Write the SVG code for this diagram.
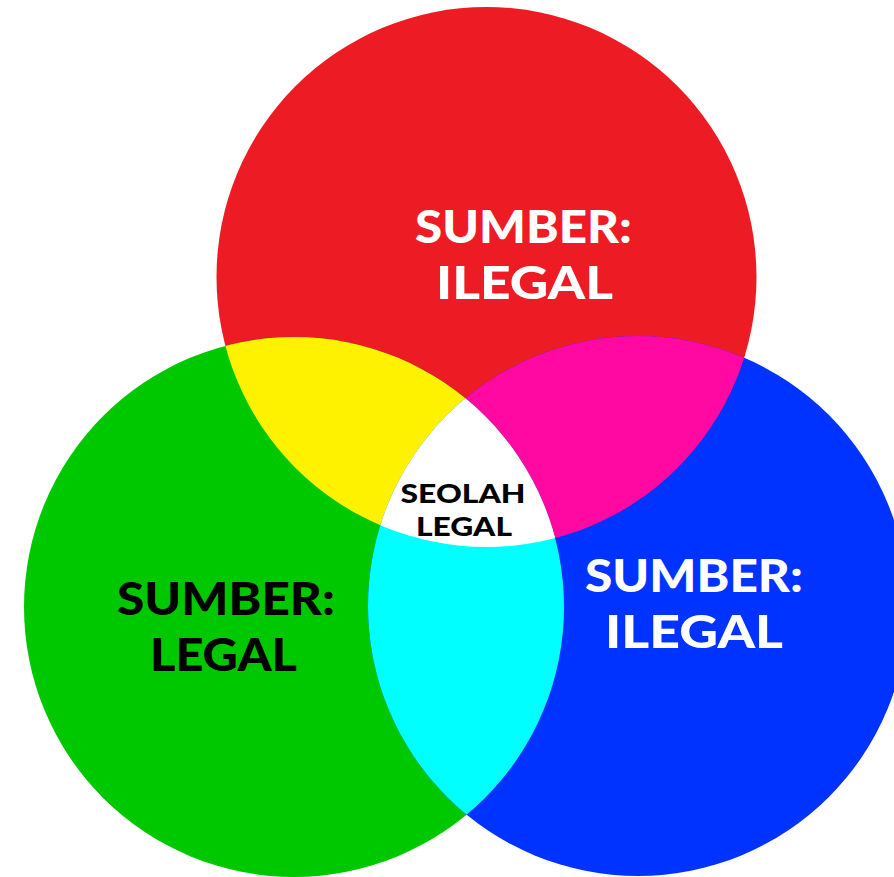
<svg xmlns="http://www.w3.org/2000/svg" xmlns:xlink="http://www.w3.org/1999/xlink" width="894" height="877" viewBox="0 0 894 877">
<style>
.big{font-family:Lato,"Liberation Sans",sans-serif;font-weight:900;font-size:45px;text-anchor:middle}
.small{font-family:Lato,"Liberation Sans",sans-serif;font-weight:900;font-size:27px;text-anchor:middle;fill:#000}
.w{fill:#fff}
.k{fill:#000}
</style>
<defs>
<circle id="cR" cx="486.5" cy="277" r="270"/>
<circle id="cG" cx="294" cy="607" r="270"/>
<circle id="cB" cx="638" cy="606" r="270"/>
<clipPath id="clipR"><use xlink:href="#cR"/></clipPath>
<clipPath id="clipG"><use xlink:href="#cG"/></clipPath>
<clipPath id="clipB"><use xlink:href="#cB"/></clipPath>
</defs>
<rect width="894" height="877" fill="#fff"/>
<g id="red"><use xlink:href="#cR" fill="#ED1C24"/></g>
<g id="green"><use xlink:href="#cG" fill="#00C800"/></g>
<g id="blue"><use xlink:href="#cB" fill="#0033FF"/></g>
<g id="yellow"><use xlink:href="#cG" fill="#FFF200" clip-path="url(#clipR)"/></g>
<g id="magenta"><use xlink:href="#cB" fill="#FF09A2" clip-path="url(#clipR)"/></g>
<g id="cyan"><use xlink:href="#cG" fill="#00FFFF" clip-path="url(#clipB)"/></g>
<g id="white" clip-path="url(#clipR)"><use xlink:href="#cG" fill="#FFFFFF" clip-path="url(#clipB)"/></g>
<g id="label-red">
<text class="big w" x="523.5" y="243" textLength="217" lengthAdjust="spacingAndGlyphs">SUMBER:</text>
<text class="big w" x="524.5" y="299" textLength="177" lengthAdjust="spacingAndGlyphs">ILEGAL</text>
</g>
<g id="label-green">
<text class="big k" x="226" y="615" textLength="218" lengthAdjust="spacingAndGlyphs">SUMBER:</text>
<text class="big k" x="223.5" y="671" textLength="147" lengthAdjust="spacingAndGlyphs">LEGAL</text>
</g>
<g id="label-blue">
<text class="big w" x="694" y="592" textLength="218" lengthAdjust="spacingAndGlyphs">SUMBER:</text>
<text class="big w" x="694" y="648" textLength="178" lengthAdjust="spacingAndGlyphs">ILEGAL</text>
</g>
<g id="label-center">
<text class="small" x="463" y="503" textLength="125" lengthAdjust="spacingAndGlyphs">SEOLAH</text>
<text class="small" x="464" y="536" textLength="96" lengthAdjust="spacingAndGlyphs">LEGAL</text>
</g>
</svg>
